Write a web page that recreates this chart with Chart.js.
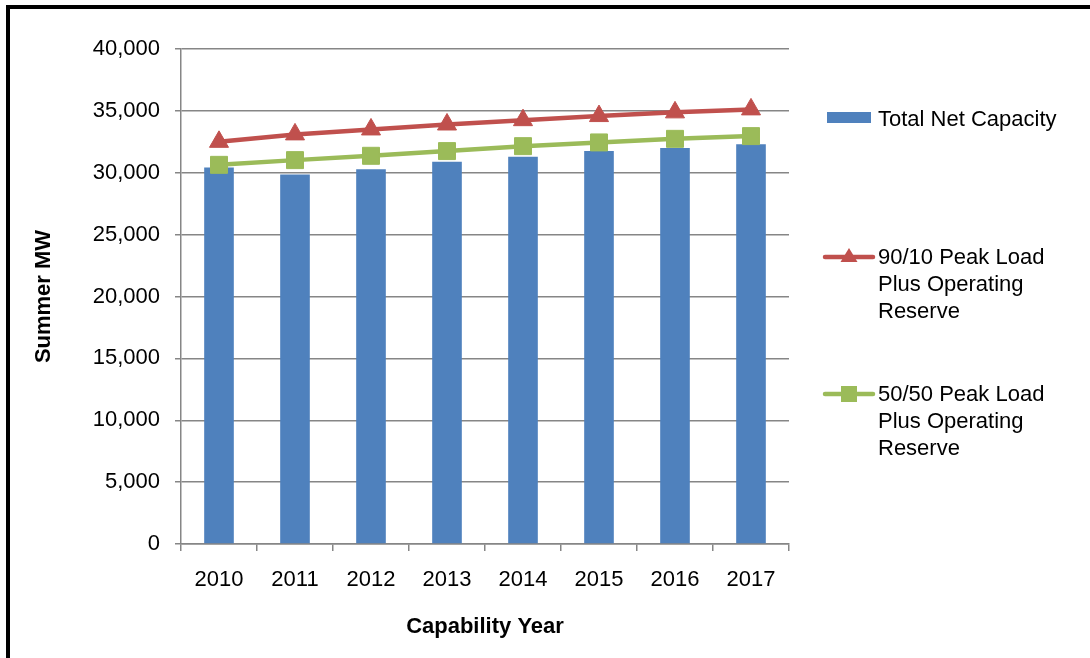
<!DOCTYPE html>
<html>
<head>
<meta charset="utf-8">
<title>Summer MW by Capability Year</title>
<script src="https://cdn.jsdelivr.net/npm/chart.js@4/dist/chart.umd.min.js"></script>
<style>
  html, body { margin: 0; padding: 0; background: #fff; overflow: hidden; }
  #wrap { position: relative; width: 1090px; height: 658px; }
  #frame {
    position: absolute; left: 6px; top: 5px; right: -20px; bottom: -20px;
    border-left: 4px solid #000; border-top: 4px solid #000;
    pointer-events: none;
  }
</style>
</head>
<body>
<div id="wrap">
  <canvas id="capacityChart" width="1090" height="658"></canvas>
  <div id="frame"></div>
</div>
<script>
  const years = ["2010", "2011", "2012", "2013", "2014", "2015", "2016", "2017"];
  const totalNetCapacity = [30430, 29860, 30290, 30880, 31290, 31750, 32010, 32310];
  const peak9010 = [32500, 33100, 33500, 33900, 34250, 34580, 34880, 35120];
  const peak5050 = [30640, 31020, 31370, 31750, 32150, 32450, 32740, 32960];
  const yMin = 0;
  const yMax = 40000;
  const yStep = 5000;

  const FONT = '"Liberation Sans", Arial, Helvetica, sans-serif';
  const BLUE = "#4F81BD";
  const RED = "#C0504D";
  const GREEN = "#9BBB59";
  const GRID = "#868686";

  Chart.defaults.font.family = FONT;
  Chart.defaults.color = "#000";

  // wrap a label into lines no wider than maxWidth
  const wrapText = (ctx, text, maxWidth) => {
    const words = text.split(" ");
    const lines = [];
    let line = "";
    words.forEach((w) => {
      const test = line ? line + " " + w : w;
      if (line && ctx.measureText(test).width > maxWidth) {
        lines.push(line);
        line = w;
      } else {
        line = test;
      }
    });
    if (line) lines.push(line);
    return lines;
  };

  // legend sits to the right of the plot, one block per dataset
  const sideLegend = {
    id: "sideLegend",
    afterDraw(chart) {
      const ctx = chart.ctx;
      const blocks = [
        { index: 2, y: 119 },
        { index: 0, y: 257 },
        { index: 1, y: 394 },
      ];
      const x0 = 825;
      const x1 = 873;
      const textX = 878;
      const lineGap = 27;

      ctx.save();
      ctx.font = "22px " + FONT;
      ctx.textBaseline = "middle";
      ctx.textAlign = "left";

      blocks.forEach(({ index, y }) => {
        const ds = chart.data.datasets[index];
        if (ds.type === "bar") {
          ctx.fillStyle = ds.backgroundColor;
          ctx.fillRect(x0 + 2, y - 7, x1 - x0 - 4, 11);
        } else {
          const cx = (x0 + x1) / 2;
          ctx.strokeStyle = ds.borderColor;
          ctx.lineWidth = 4.5;
          ctx.lineCap = "round";
          ctx.beginPath();
          ctx.moveTo(x0, y);
          ctx.lineTo(x1, y);
          ctx.stroke();
          ctx.fillStyle = ds.pointBackgroundColor;
          ctx.beginPath();
          if (ds.pointStyle === "triangle") {
            ctx.moveTo(cx, y - 9);
            ctx.lineTo(cx + 8.5, y + 5);
            ctx.lineTo(cx - 8.5, y + 5);
          } else {
            ctx.rect(cx - 8, y - 8, 16, 16);
          }
          ctx.closePath();
          ctx.fill();
        }
        ctx.fillStyle = "#000";
        wrapText(ctx, ds.label, 200).forEach((ln, i) => {
          ctx.fillText(ln, textX, y + 1 + i * lineGap);
        });
      });
      ctx.restore();
    },
  };

  new Chart(document.getElementById("capacityChart"), {
    data: {
      labels: years,
      datasets: [
        {
          type: "line",
          label: "90/10 Peak Load Plus Operating Reserve",
          data: peak9010,
          borderColor: RED,
          borderWidth: 4.5,
          tension: 0,
          pointStyle: "triangle",
          pointRadius: 11,
          pointHoverRadius: 11,
          pointBackgroundColor: RED,
          pointBorderColor: RED,
          pointBorderWidth: 1,
          order: 1,
        },
        {
          type: "line",
          label: "50/50 Peak Load Plus Operating Reserve",
          data: peak5050,
          borderColor: GREEN,
          borderWidth: 4.5,
          tension: 0,
          pointStyle: "rect",
          pointRadius: 12,
          pointHoverRadius: 12,
          pointBackgroundColor: GREEN,
          pointBorderColor: GREEN,
          pointBorderWidth: 1,
          order: 2,
        },
        {
          type: "bar",
          label: "Total Net Capacity",
          data: totalNetCapacity,
          backgroundColor: BLUE,
          barPercentage: 0.39,
          categoryPercentage: 1,
          order: 3,
        },
      ],
    },
    options: {
      responsive: false,
      animation: false,
      layout: { padding: { left: 10, top: 49, right: 301, bottom: 0 } },
      plugins: {
        legend: { display: false },
        tooltip: { enabled: false },
      },
      scales: {
        x: {
          offset: true,
          grid: {
            offset: true,
            drawOnChartArea: false,
            drawTicks: true,
            tickLength: 7,
            color: GRID,
            lineWidth: 1.5,
          },
          border: { color: GRID, width: 1.5 },
          ticks: { font: { size: 22 }, color: "#000", padding: 16, maxRotation: 0 },
          title: {
            display: true,
            text: "Capability Year",
            font: { size: 22, weight: "bold" },
            color: "#000",
            padding: { top: 0, bottom: 18 },
          },
          afterFit: (scale) => {
            scale.height = 114;
          },
        },
        y: {
          min: yMin,
          max: yMax,
          grid: { color: GRID, lineWidth: 1.5, tickLength: 6 },
          border: { color: GRID, width: 1.5 },
          ticks: {
            stepSize: yStep,
            font: { size: 22 },
            color: "#000",
            padding: 15,
            callback: (value) => Number(value).toLocaleString("en-US"),
          },
          title: {
            display: true,
            text: "Summer MW",
            font: { size: 22, weight: "bold" },
            color: "#000",
            padding: { top: 21, bottom: 0 },
          },
          afterFit: (scale) => {
            scale.width = 171;
          },
        },
      },
    },
    plugins: [sideLegend],
  });
</script>
</body>
</html>
